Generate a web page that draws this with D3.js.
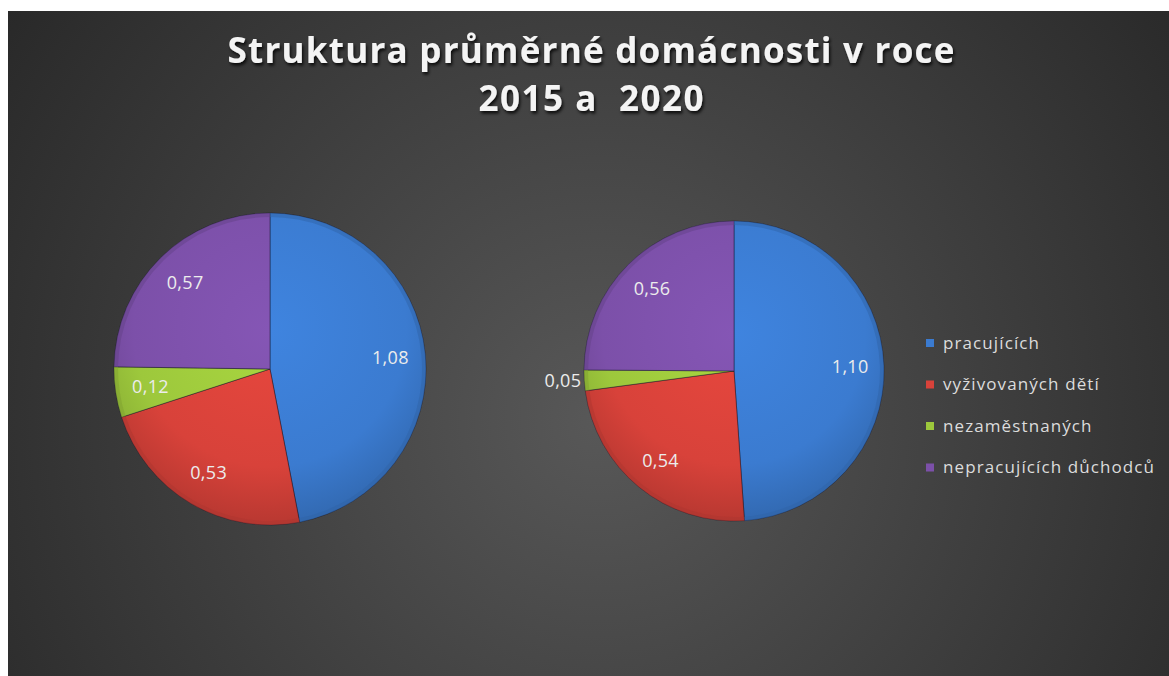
<!DOCTYPE html>
<html>
<head>
<meta charset="utf-8">
<script src="https://cdnjs.cloudflare.com/ajax/libs/d3/7.8.5/d3.min.js"></script>
<style>
  body { margin: 0; background: #fff; }
  svg { display: block; }
</style>
</head>
<body>
<svg id="chart" width="1169" height="676"></svg>
<script>
// data
var categories = ["pracujících", "vyživovaných dětí", "nezaměstnaných", "nepracujících důchodců"];
var values2015 = [1.08, 0.53, 0.12, 0.57];
var values2020 = [1.10, 0.54, 0.05, 0.56];
var titleLines = ["Struktura průměrné domácnosti v roce", "2015 a  2020"];
var colors = ["#3b7bd0", "#d8423a", "#9dc83c", "#7c50a9"];

var svg = d3.select("#chart");
var defs = svg.append("defs");

// background - dark radial gradient
var bg = defs.append("radialGradient").attr("id", "bg")
  .attr("gradientUnits", "userSpaceOnUse")
  .attr("cx", 600).attr("cy", 420).attr("r", 720);
bg.append("stop").attr("offset", 0).attr("stop-color", "#585858");
bg.append("stop").attr("offset", 1).attr("stop-color", "#292929");

svg.append("rect").attr("x", 8).attr("y", 11).attr("width", 1161).attr("height", 665)
  .attr("fill", "url(#bg)");

// shadow for title text
var f = defs.append("filter").attr("id", "shadow").attr("x", "-10%").attr("y", "-30%").attr("width", "120%").attr("height", "160%");
f.append("feDropShadow").attr("dx", 1.5).attr("dy", 2.5).attr("stdDeviation", 1.8)
  .attr("flood-color", "#000").attr("flood-opacity", 0.8);

// title (widths)
var titleWidths = [727, 225];
svg.selectAll(".title").data(titleLines).enter().append("text")
  .attr("class", "title")
  .attr("x", 591)
  .attr("y", function(d, i) { return 63 + i * 48; })
  .attr("text-anchor", "middle")
  .attr("xml:space", "preserve")
  .style("white-space", "pre")
  .attr("font-family", "'Open Sans', Lato, sans-serif")
  .attr("font-weight", "bold")
  .attr("font-size", 35)
  .attr("textLength", function(d, i) { return titleWidths[i]; })
  .attr("lengthAdjust", "spacing")
  .attr("fill", "#f4f4f4")
  .attr("filter", "url(#shadow)")
  .text(function(d) { return d; });

var fmt = function(v) { return d3.format(".2f")(v).replace(".", ","); };

function drawPie(values, cx, cy, r, id) {
  var g = svg.append("g").attr("transform", "translate(" + cx + "," + cy + ")");

  // per-colour shading gradients
  colors.forEach(function(c, i) {
    var gr = defs.append("radialGradient").attr("id", id + "g" + i)
      .attr("gradientUnits", "userSpaceOnUse")
      .attr("cx", 0).attr("cy", -r * 0.25).attr("r", r * 1.25);
    gr.append("stop").attr("offset", 0).attr("stop-color", d3.color(c).brighter(0.2));
    gr.append("stop").attr("offset", 0.7).attr("stop-color", c);
    gr.append("stop").attr("offset", 1).attr("stop-color", d3.color(c).darker(0.45));
  });

  var pie = d3.pie().sort(null).value(function(d) { return d; });
  var arcs = pie(values);
  var arc = d3.arc().innerRadius(0).outerRadius(r);
  var labelArc = d3.arc().innerRadius(r * 0.775).outerRadius(r * 0.775);
  var total = d3.sum(values);

  g.selectAll("path").data(arcs).enter().append("path")
    .attr("d", arc)
    .attr("fill", function(d, i) { return "url(#" + id + "g" + i + ")"; })
    .attr("stroke", "rgba(20,20,40,0.45)")
    .attr("stroke-width", 1);

  // inner bevel rim
  g.selectAll("path.rim").data(arcs).enter().append("path")
    .attr("class", "rim")
    .attr("d", d3.arc().innerRadius(r - 4).outerRadius(r))
    .attr("fill", function(d, i) { return d3.color(colors[i]).darker(0.6); })
    .attr("opacity", 0.5);

  g.selectAll("text").data(arcs).enter().append("text")
    .attr("transform", function(d) {
      if ((d.value / total) < 0.03) {
        var a = (d.startAngle + d.endAngle) / 2;
        return "translate(" + (Math.sin(a) * (r + 3)) + "," + (-Math.cos(a) * (r + 3)) + ")";
      }
      return "translate(" + labelArc.centroid(d) + ")";
    })
    .attr("text-anchor", function(d) { return (d.value / total) < 0.03 ? "end" : "middle"; })
    .attr("dy", "0.35em")
    .attr("font-family", "'Open Sans', sans-serif")
    .attr("font-size", 18)
    .attr("letter-spacing", 0.3)
    .attr("fill", "#ececec")
    .text(function(d) { return fmt(d.value); });
}

drawPie(values2015, 270, 369, 156, "p1");
drawPie(values2020, 734, 371, 150, "p2");

// legend
var lg = svg.append("g").attr("transform", "translate(930,343)");
var rows = lg.selectAll("g").data(categories).enter().append("g")
  .attr("transform", function(d, i) { return "translate(0," + (i * 41.5) + ")"; });
rows.append("rect")
  .attr("x", -4).attr("y", -4).attr("width", 8).attr("height", 8)
  .attr("fill", function(d, i) { return colors[i]; });
rows.append("text")
  .attr("x", 13).attr("dy", "0.35em")
  .attr("font-family", "'Open Sans', sans-serif")
  .attr("font-size", 17)
  .attr("letter-spacing", 1.1)
  .attr("fill", "#dcdcdc")
  .text(function(d) { return d; });
</script>
</body>
</html>
